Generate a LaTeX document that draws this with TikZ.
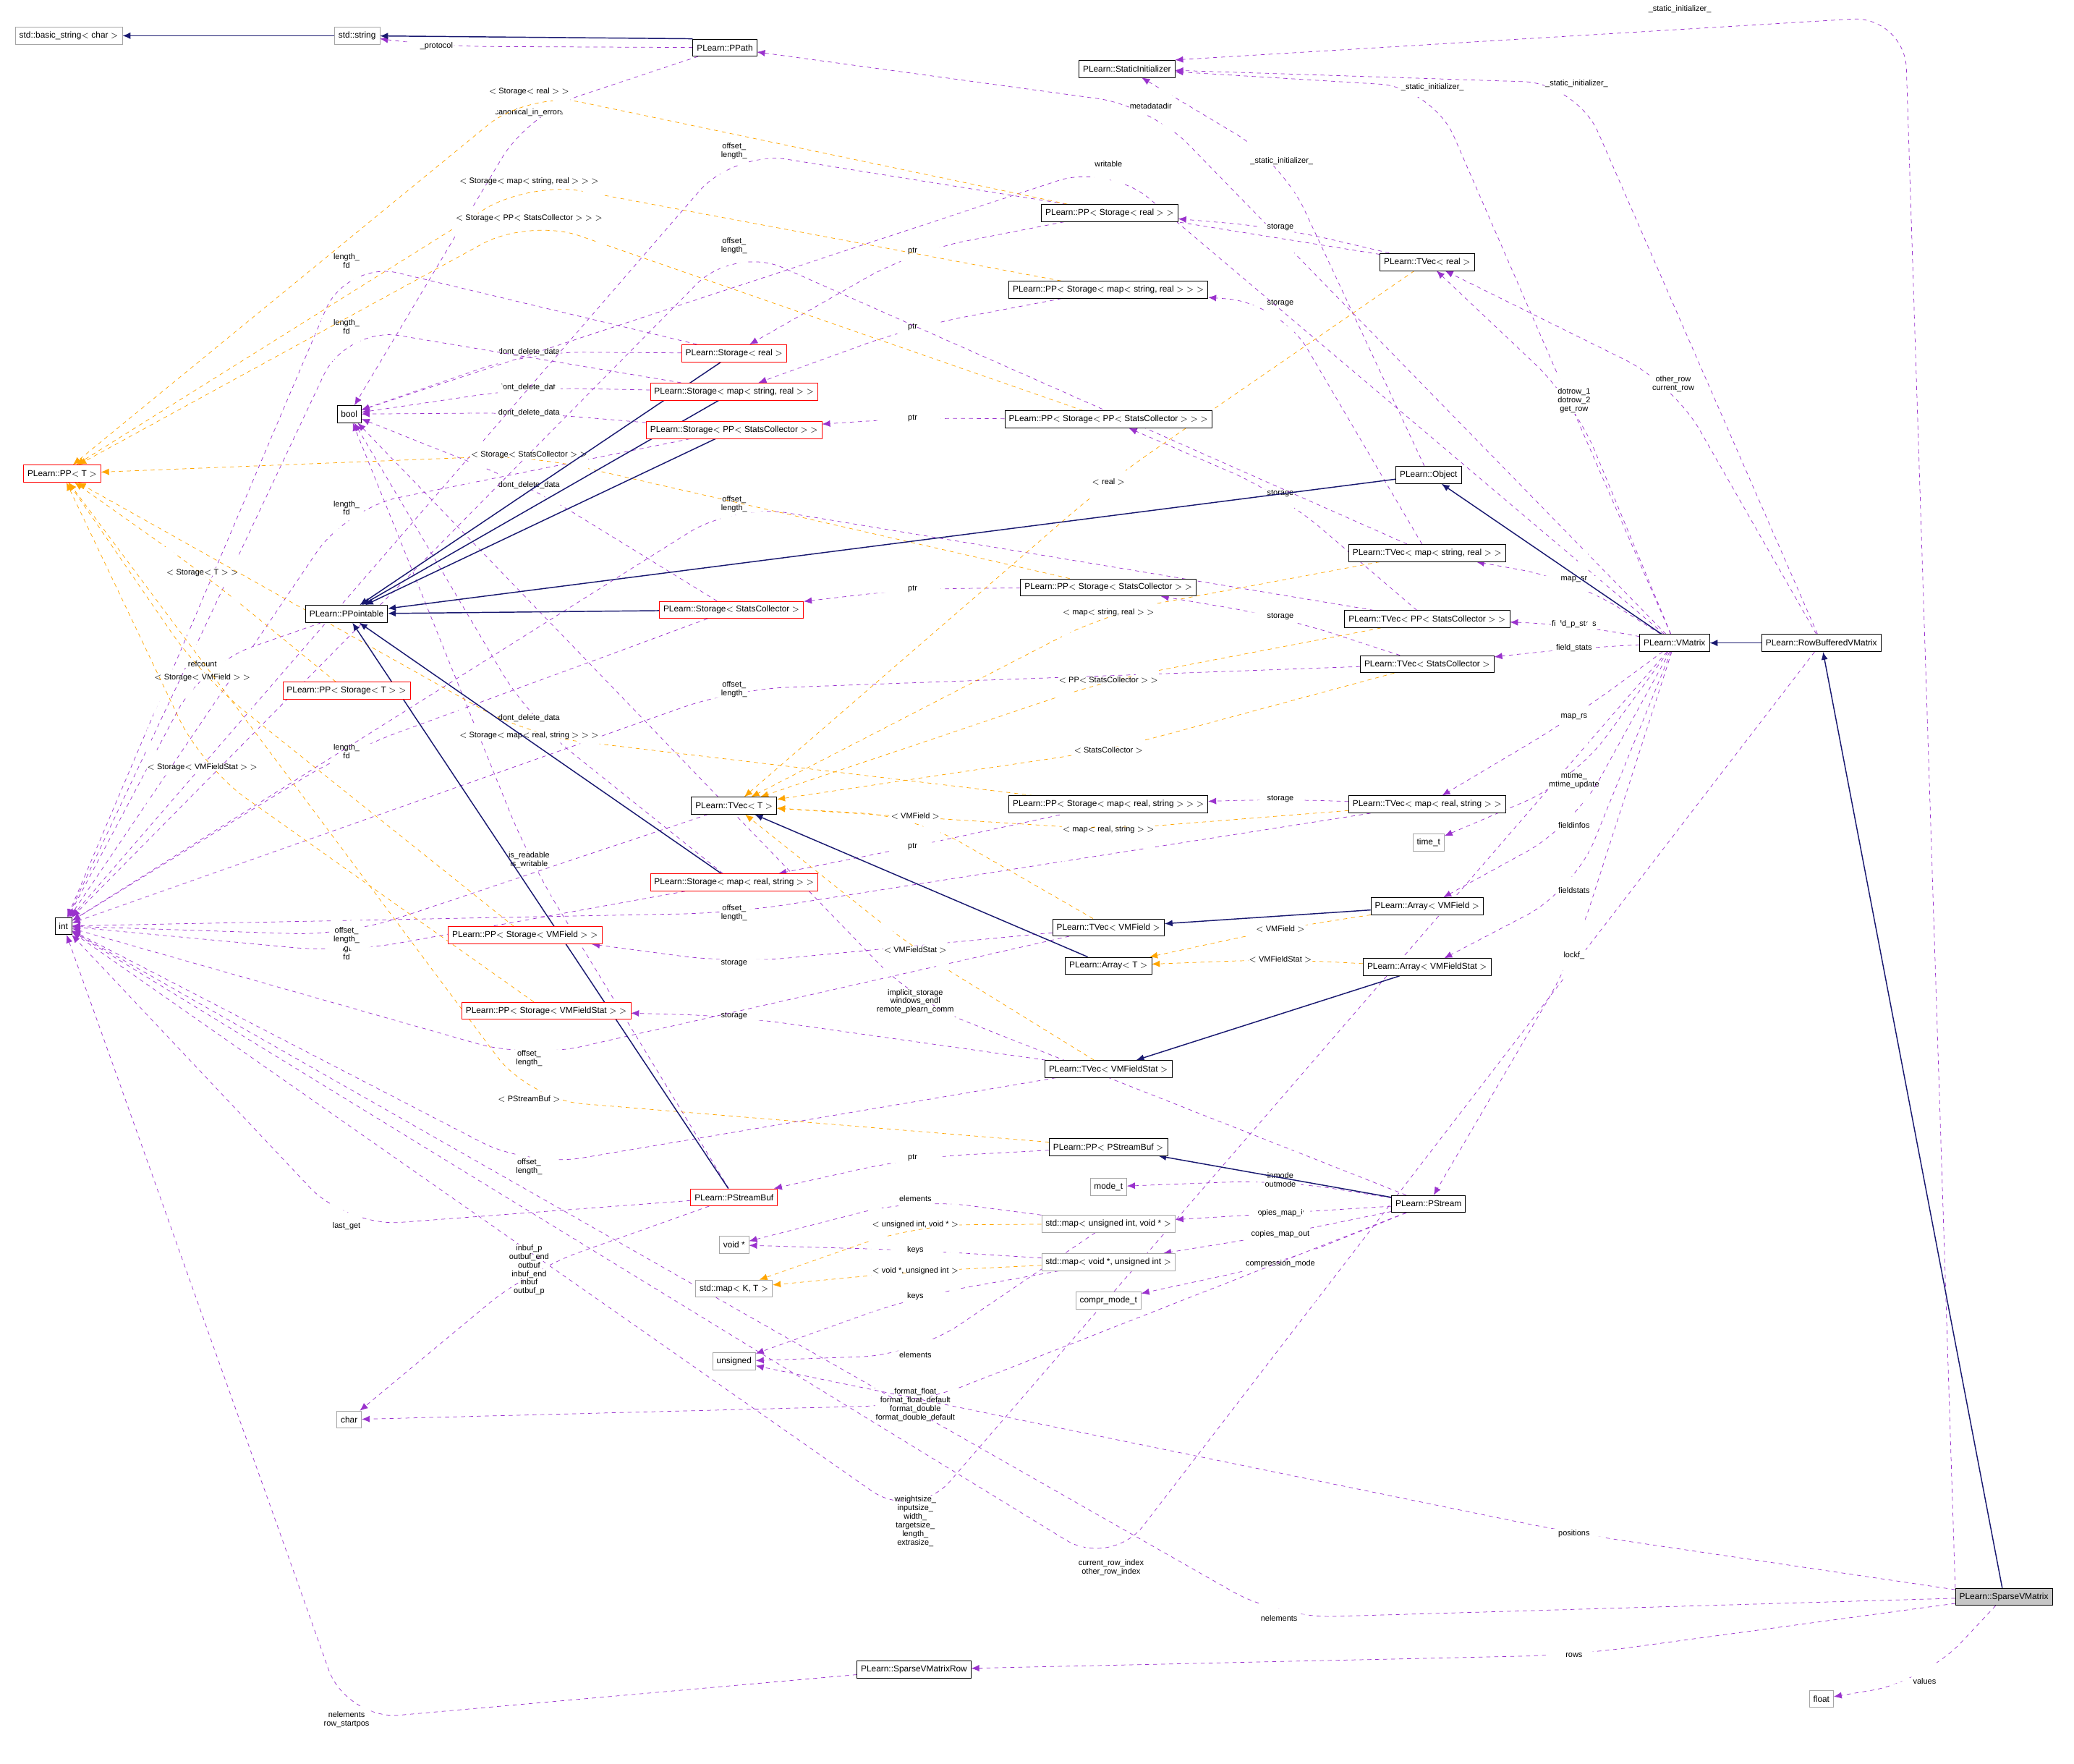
\documentclass[tikz,border=0pt]{standalone}
\usepackage{fontspec}
\setmainfont{Liberation Sans}
\usetikzlibrary{arrows.meta}
\definecolor{usecol}{HTML}{9A32CD}
\definecolor{tplcol}{HTML}{FFA500}
\definecolor{inhcol}{HTML}{191970}
\pgfdeclarelayer{edges}
\pgfsetlayers{edges,main}
\tikzset{
  box/.style = {draw, fill=white, font=\fontsize{6.5}{7}\selectfont, inner sep=3pt, minimum height=13pt},
  cls/.style = {box, draw=black},
  bad/.style = {box, draw=red},
  ext/.style = {box, draw=gray!70},
  usage/.style = {draw=usecol, dashed, rounded corners=40pt, -{Latex[length=6pt,width=5pt]}},
  tpl/.style = {draw=tplcol, dashed, rounded corners=40pt, -{Latex[length=6pt,width=5pt]}},
  inherit/.style = {draw=inhcol, thick, -{Latex[length=6pt,width=5pt]}},
  lbl/.style = {font=\fontsize{6}{6.5}\selectfont, align=center, inner sep=0.5pt, fill=white}
}
% edge from #1 to #2 led through point #3 with label #4
\newcommand\useedge[4]{\draw[usage] (#1) -- (#3) -- (#2) node[lbl] at (#3) {#4};}
\newcommand\tpledge[4]{\draw[tpl] (#1) -- (#3) -- (#2) node[lbl] at (#3) {#4};}
\begin{document}
\begin{tikzpicture}[x=1pt, y=-1pt]
\useasboundingbox (0,0) rectangle (1568,1333);
% classes
\node[ext] (bstr) at (52,27) {std::basic\_string$<$ char $>$};
\node[ext] (str) at (270,27) {std::string};
\node[cls] (ppath) at (548,36) {PLearn::PPath};
\node[cls] (sinit) at (852,52) {PLearn::StaticInitializer};
\node[cls] (ppreal) at (839,161) {PLearn::PP$<$ Storage$<$ real $>$ $>$};
\node[cls] (tvreal) at (1079,198) {PLearn::TVec$<$ real $>$};
\node[cls] (ppmsr) at (838,219) {PLearn::PP$<$ Storage$<$ map$<$ string, real $>$ $>$ $>$};
\node[bad] (streal) at (555,267) {PLearn::Storage$<$ real $>$};
\node[bad] (stmsr) at (555,296) {PLearn::Storage$<$ map$<$ string, real $>$ $>$};
\node[cls] (bool) at (264,313) {bool};
\node[bad] (stppsc) at (555,325) {PLearn::Storage$<$ PP$<$ StatsCollector $>$ $>$};
\node[cls] (pppsc) at (838,317) {PLearn::PP$<$ Storage$<$ PP$<$ StatsCollector $>$ $>$ $>$};
\node[bad] (ppT) at (47,358) {PLearn::PP$<$ T $>$};
\node[cls] (obj) at (1080,359) {PLearn::Object};
\node[cls] (tvmsr) at (1079,418) {PLearn::TVec$<$ map$<$ string, real $>$ $>$};
\node[cls] (ppsc) at (838,444) {PLearn::PP$<$ Storage$<$ StatsCollector $>$ $>$};
\node[cls] (pptbl) at (262,464) {PLearn::PPointable};
\node[bad] (stsc) at (553,461) {PLearn::Storage$<$ StatsCollector $>$};
\node[cls] (tvppsc) at (1079,468) {PLearn::TVec$<$ PP$<$ StatsCollector $>$ $>$};
\node[cls] (vmat) at (1266,486) {PLearn::VMatrix};
\node[cls] (rbvm) at (1377,486) {PLearn::RowBufferedVMatrix};
\node[cls] (tvsc) at (1079,502) {PLearn::TVec$<$ StatsCollector $>$};
\node[bad] (ppstT) at (262,522) {PLearn::PP$<$ Storage$<$ T $>$ $>$};
\node[cls] (tvT) at (555,609) {PLearn::TVec$<$ T $>$};
\node[cls] (ppmrs) at (838,608) {PLearn::PP$<$ Storage$<$ map$<$ real, string $>$ $>$ $>$};
\node[cls] (tvmrs) at (1079,608) {PLearn::TVec$<$ map$<$ real, string $>$ $>$};
\node[ext] (timet) at (1080,637) {time\_t};
\node[bad] (stmrs) at (555,667) {PLearn::Storage$<$ map$<$ real, string $>$ $>$};
\node[cls] (arrvmf) at (1079,685) {PLearn::Array$<$ VMField $>$};
\node[cls] (int) at (48,700) {int};
\node[cls] (tvvmf) at (838,701) {PLearn::TVec$<$ VMField $>$};
\node[bad] (ppvmf) at (397,707) {PLearn::PP$<$ Storage$<$ VMField $>$ $>$};
\node[cls] (arrT) at (838,730) {PLearn::Array$<$ T $>$};
\node[cls] (arrvms) at (1079,731) {PLearn::Array$<$ VMFieldStat $>$};
\node[bad] (ppvms) at (413,764) {PLearn::PP$<$ Storage$<$ VMFieldStat $>$ $>$};
\node[cls] (tvvms) at (838,808) {PLearn::TVec$<$ VMFieldStat $>$};
\node[cls] (ppsb) at (838,867) {PLearn::PP$<$ PStreamBuf $>$};
\node[ext] (modet) at (838,897) {mode\_t};
\node[cls] (pstream) at (1080,910) {PLearn::PStream};
\node[bad] (psb) at (555,905) {PLearn::PStreamBuf};
\node[ext] (mapuv) at (838,925) {std::map$<$ unsigned int, void * $>$};
\node[ext] (voidp) at (555,941) {void *};
\node[ext] (mapvu) at (838,954) {std::map$<$ void *, unsigned int $>$};
\node[ext] (mapKT) at (555,974) {std::map$<$ K, T $>$};
\node[ext] (comprm) at (838,983) {compr\_mode\_t};
\node[ext] (unsig) at (555,1029) {unsigned};
\node[ext] (char) at (264,1073) {char};
\node[cls, fill=gray!45] (svm) at (1515,1207) {PLearn::SparseVMatrix};
\node[cls] (svmrow) at (691,1262) {PLearn::SparseVMatrixRow};
\node[ext] (float) at (1377,1284) {float};
\begin{pgfonlayer}{edges}
% usage
\useedge{ppath}{str}{330,35}{\_protocol}
\draw[usage] (svm.north west) -- (1440,12) -- (sinit.north east);
\node[lbl] (silbl) at (1270,7) {\_static\_initializer\_};
\useedge{vmat}{sinit}{1083,66}{\_static\_initializer\_}
\useedge{rbvm}{sinit}{1192,63}{\_static\_initializer\_}
\useedge{obj}{sinit}{969,122}{\_static\_initializer\_}
\useedge{vmat}{ppath}{870,80}{metadatadir}
\useedge{ppath}{bool}{400,85}{canonical\_in\_errors}
\useedge{tvreal}{ppreal}{968,172}{storage}
\useedge{ppreal}{streal}{690,190}{ptr}
\useedge{tvmsr}{ppmsr}{968,229}{storage}
\useedge{ppmsr}{stmsr}{690,247}{ptr}
\useedge{pppsc}{stppsc}{690,316}{ptr}
\useedge{tvppsc}{pppsc}{968,373}{storage}
\useedge{ppsc}{stsc}{690,445}{ptr}
\useedge{tvsc}{ppsc}{968,466}{storage}
\useedge{tvmrs}{ppmrs}{968,604}{storage}
\useedge{ppmrs}{stmrs}{690,640}{ptr}
\useedge{tvvmf}{ppvmf}{555,728}{storage}
\useedge{tvvms}{ppvms}{555,768}{storage}
\useedge{ppsb}{psb}{690,875}{ptr}
\useedge{streal}{bool}{400,266}{dont\_delete\_data}
\useedge{stmsr}{bool}{400,293}{dont\_delete\_data}
\useedge{stppsc}{bool}{400,312}{dont\_delete\_data}
\useedge{stsc}{bool}{400,367}{dont\_delete\_data}
\useedge{stmrs}{bool}{400,543}{dont\_delete\_data}
\useedge{vmat}{bool}{838,124}{writable}
\useedge{psb}{bool}{400,650}{is\_readable\\is\_writable}
\useedge{pstream}{bool}{692,757}{implicit\_storage\\windows\_endl\\remote\_plearn\_comm}
\useedge{streal}{int}{262,197}{length\_\\fd}
\useedge{stmsr}{int}{262,247}{length\_\\fd}
\useedge{stppsc}{int}{262,384}{length\_\\fd}
\useedge{stsc}{int}{262,568}{length\_\\fd}
\useedge{stmrs}{int}{262,720}{length\_\\fd}
\useedge{tvreal}{int}{555,114}{offset\_\\length\_}
\useedge{tvmsr}{int}{555,186}{offset\_\\length\_}
\useedge{tvppsc}{int}{555,381}{offset\_\\length\_}
\useedge{tvsc}{int}{555,521}{offset\_\\length\_}
\useedge{tvmrs}{int}{555,690}{offset\_\\length\_}
\useedge{tvT}{int}{262,707}{offset\_\\length\_}
\useedge{tvvmf}{int}{400,800}{offset\_\\length\_}
\useedge{tvvms}{int}{400,882}{offset\_\\length\_}
\useedge{pptbl}{int}{153,502}{refcount}
\useedge{psb}{int}{262,927}{last\_get}
\useedge{vmat}{int}{692,1150}{weightsize\_\\inputsize\_\\width\_\\targetsize\_\\length\_\\extrasize\_}
\useedge{rbvm}{int}{840,1185}{current\_row\_index\\other\_row\_index}
\useedge{svm}{int}{967,1223}{nelements}
\useedge{svmrow}{int}{262,1300}{nelements\\row\_startpos}
\useedge{vmat}{tvreal}{1190,303}{dotrow\_1\\dotrow\_2\\get\_row}
\useedge{rbvm}{tvreal}{1265,290}{other\_row\\current\_row}
\useedge{vmat}{tvmsr}{1190,438}{map\_sr}
\useedge{vmat}{tvppsc}{1190,472}{field\_p\_stats}
\useedge{vmat}{tvsc}{1190,490}{field\_stats}
\useedge{vmat}{tvmrs}{1190,542}{map\_rs}
\useedge{vmat}{timet}{1190,590}{mtime\_\\mtime\_update}
\useedge{vmat}{arrvmf}{1190,624}{fieldinfos}
\useedge{vmat}{arrvms}{1190,673}{fieldstats}
\useedge{vmat}{pstream}{1190,722}{lockf\_}
\useedge{pstream}{modet}{968,892}{inmode\\outmode}
\useedge{pstream}{mapuv}{968,917}{copies\_map\_in}
\useedge{pstream}{mapvu}{968,933}{copies\_map\_out}
\useedge{pstream}{comprm}{968,955}{compression\_mode}
\useedge{mapuv}{voidp}{692,906}{elements}
\useedge{mapvu}{voidp}{692,945}{keys}
\useedge{mapvu}{unsig}{692,980}{keys}
\useedge{mapuv}{unsig}{692,1024}{elements}
\useedge{psb}{char}{400,960}{inbuf\_p\\outbuf\_end\\outbuf\\inbuf\_end\\inbuf\\outbuf\_p}
\useedge{pstream}{char}{692,1062}{format\_float\\format\_float\_default\\format\_double\\format\_double\_default}
\useedge{svm}{unsig}{1190,1159}{positions}
\useedge{svm}{svmrow}{1190,1251}{rows}
\useedge{svm}{float}{1455,1271}{values}
% templates
\tpledge{ppreal}{ppT}{400,69}{$<$ Storage$<$ real $>$ $>$}
\tpledge{ppmsr}{ppT}{400,137}{$<$ Storage$<$ map$<$ string, real $>$ $>$ $>$}
\tpledge{pppsc}{ppT}{400,165}{$<$ Storage$<$ PP$<$ StatsCollector $>$ $>$ $>$}
\tpledge{ppsc}{ppT}{400,344}{$<$ Storage$<$ StatsCollector $>$ $>$}
\tpledge{ppstT}{ppT}{153,433}{$<$ Storage$<$ T $>$ $>$}
\tpledge{ppvmf}{ppT}{153,512}{$<$ Storage$<$ VMField $>$ $>$}
\tpledge{ppvms}{ppT}{153,580}{$<$ Storage$<$ VMFieldStat $>$ $>$}
\tpledge{ppmrs}{ppT}{400,556}{$<$ Storage$<$ map$<$ real, string $>$ $>$ $>$}
\tpledge{ppsb}{ppT}{400,831}{$<$ PStreamBuf $>$}
\tpledge{tvreal}{tvT}{838,364}{$<$ real $>$}
\tpledge{tvmsr}{tvT}{838,463}{$<$ map$<$ string, real $>$ $>$}
\tpledge{tvppsc}{tvT}{838,514}{$<$ PP$<$ StatsCollector $>$ $>$}
\tpledge{tvsc}{tvT}{838,567}{$<$ StatsCollector $>$}
\tpledge{tvmrs}{tvT}{838,627}{$<$ map$<$ real, string $>$ $>$}
\tpledge{tvvmf}{tvT}{692,617}{$<$ VMField $>$}
\tpledge{tvvms}{tvT}{692,718}{$<$ VMFieldStat $>$}
\tpledge{arrvmf}{arrT}{968,702}{$<$ VMField $>$}
\tpledge{arrvms}{arrT}{968,725}{$<$ VMFieldStat $>$}
\tpledge{mapuv}{mapKT}{692,926}{$<$ unsigned int, void * $>$}
\tpledge{mapvu}{mapKT}{692,961}{$<$ void *, unsigned int $>$}
% inheritance
\draw[inherit] (str) -- (bstr);
\draw[inherit] (ppath.north west) -- (str);
\draw[inherit] (obj) -- (pptbl);
\draw[inherit] (streal) -- (pptbl);
\draw[inherit] (stmsr) -- (pptbl);
\draw[inherit] (stppsc) -- (pptbl);
\draw[inherit] (stsc) -- (pptbl);
\draw[inherit] (stmrs) -- (pptbl);
\draw[inherit] (psb) -- (pptbl);
\draw[inherit] (vmat) -- (obj);
\draw[inherit] (rbvm) -- (vmat);
\draw[inherit] (svm) -- (rbvm);
\draw[inherit] (arrvmf) -- (tvvmf);
\draw[inherit] (arrT) -- (tvT);
\draw[inherit] (arrvms) -- (tvvms);
\draw[inherit] (pstream) -- (ppsb);
\end{pgfonlayer}
\end{tikzpicture}
\end{document}
